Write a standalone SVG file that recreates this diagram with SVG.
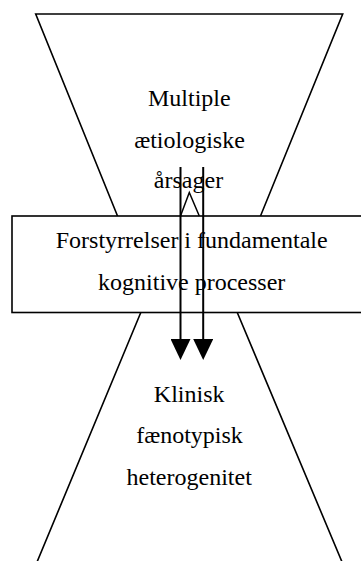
<svg xmlns="http://www.w3.org/2000/svg" width="361" height="561" viewBox="0 0 361 561">
<style>
.shape{fill:#fff;stroke:#000;stroke-width:1.6}
.lbl{font-family:"Liberation Serif","Times New Roman",serif;font-size:24px;fill:#000;text-anchor:middle}
.conn{stroke:#000;stroke-width:2;fill:none}
</style>
<defs>
<marker id="head" markerUnits="userSpaceOnUse" markerWidth="21" markerHeight="20" viewBox="0 0 21 20" refX="0" refY="10" orient="auto">
<path d="M0,0 L21,10 L0,20 Z" fill="#000"/>
</marker>
</defs>
<rect width="361" height="561" fill="#fff"/>
<g id="causes">
<polygon class="shape" points="35.7,14 342.7,14 254.8,230 123.2,230"/>
<text class="lbl" x="189.3" y="106">Multiple</text>
<text class="lbl" x="189.5" y="148">ætiologiske</text>
<text class="lbl" x="188.5" y="188">årsager</text>
</g>
<g id="phenotype">
<polygon class="shape" points="146,300 232,300 345.4,570 33.7,570"/>
<text class="lbl" x="189.2" y="402">Klinisk</text>
<text class="lbl" x="189.5" y="443">fænotypisk</text>
<text class="lbl" x="189.2" y="485">heterogenitet</text>
</g>
<g id="processes">
<rect class="shape" x="12" y="216" width="360" height="96.5"/>
<text class="lbl" x="191.7" y="248">Forstyrrelser i fundamentale</text>
<text class="lbl" x="191.7" y="290">kognitive processer</text>
</g>
<g id="connectors">
<line class="conn" x1="180.5" y1="167" x2="180.5" y2="339" marker-end="url(#head)"/>
<line class="conn" x1="203.2" y1="167" x2="203.2" y2="339" marker-end="url(#head)"/>
<polyline class="conn" style="stroke-width:1.5" points="180.5,216 189.3,192.5 199.3,216"/>
</g>
</svg>
